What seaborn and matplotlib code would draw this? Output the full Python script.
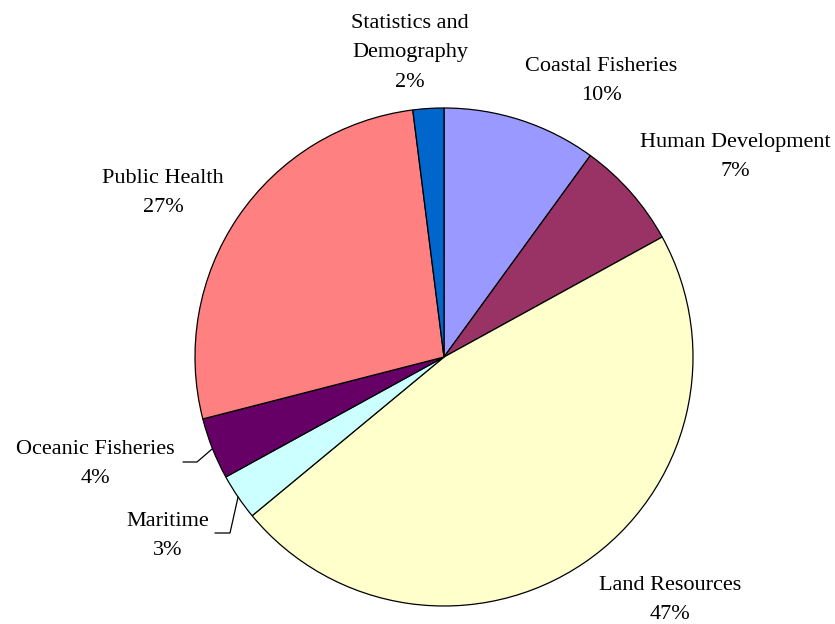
import numpy as np
import seaborn as sns
import matplotlib.pyplot as plt

# data, clockwise from 12 o'clock
sections = ['Coastal Fisheries', 'Human Development', 'Land Resources', 'Maritime',
            'Oceanic Fisheries', 'Public Health', 'Statistics and\nDemography']
shares = [10, 7, 47, 3, 4, 27, 2]
colours = ['#9999FF', '#993366', '#FFFFCC', '#CCFFFF', '#660066', '#FF8080', '#0066CC']

sns.set_style("white")
plt.rcParams['font.family'] = ['Liberation Serif', 'DejaVu Serif']

fig = plt.figure(figsize=(8.35, 6.24), dpi=100)
ax = fig.add_axes([0, 0, 1, 1])

cx, cy, r = 444, 624 - 357, 249
wedges, _ = ax.pie(shares, colors=colours, startangle=90, counterclock=False,
                   center=(cx, cy), radius=r, frame=True,
                   wedgeprops=dict(edgecolor='black', linewidth=0.9))
ax.set_xlim(0, 835)
ax.set_ylim(0, 624)
ax.set_aspect('equal')
ax.axis('off')

# label centres in pixels (top-left origin)
label_pos = [(601, 81), (735, 157), (670, 600), (168, 536), (95, 464), (163, 193), (410, 53)]
for name, val, (px, py) in zip(sections, shares, label_pos):
    ax.text(px, 624 - py, f'{name}\n{val}%', ha='center', va='center',
            fontsize=16, linespacing=1.75, color='black')

# leader lines for the two small slices on the left
leaders = {3: (215, 230, 533), 4: (183, 197, 462)}
for i, (x0, x1, ly) in leaders.items():
    w = wedges[i]
    mid = np.deg2rad((w.theta1 + w.theta2) / 2)
    ex, ey = cx + r * np.cos(mid), cy + r * np.sin(mid)
    ax.plot([x0, x1, ex], [624 - ly, 624 - ly, ey], color='black', linewidth=0.9)

fig.savefig('out.png', dpi=100)
